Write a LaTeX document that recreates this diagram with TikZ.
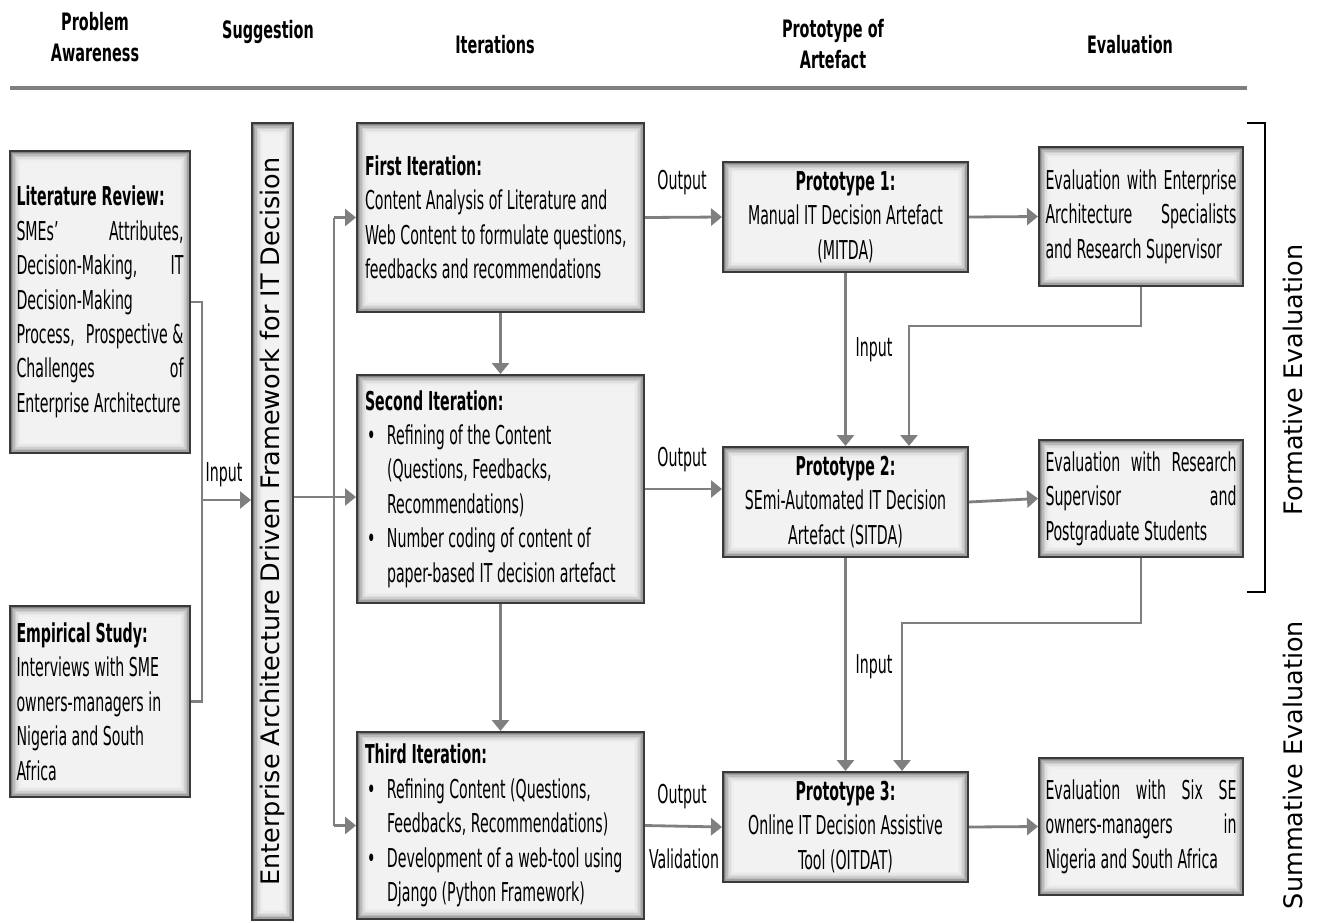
\documentclass[tikz,border=0pt]{standalone}
\usepackage{fontspec}
\usetikzlibrary{arrows.meta}
\newfontfamily\bodyfont[FakeStretch=0.545]{DejaVu Sans}
\newfontfamily\headfont[FakeStretch=0.6]{DejaVu Sans}
\newfontfamily\widefont{DejaVu Sans}
\definecolor{linkgray}{HTML}{7F7F7F}
\definecolor{boxline}{HTML}{3A3A3A}
% use the font's own interword spacing inside ragged text blocks
\newcommand\natsp{\spaceskip=0pt\xspaceskip=0pt\relax}
% a justified line: words spread across the full text width
\newcommand\jline[1]{\leavevmode\hbox to\hsize{#1}}
% bullet and hanging indent for the iteration lists
\newcommand\bul{\hspace*{2pt}\makebox[20pt][l]{\textbullet}}
\newcommand\hang{\hspace*{22pt}}
\hyphenpenalty=10000
\exhyphenpenalty=10000
\begin{document}
\begin{tikzpicture}[x=1pt,y=-1pt,
  card/.style={draw=boxline, line width=2pt, fill=black!5, inner ysep=0pt,
    path picture={
      \foreach \d/\g in {0/50,1.5/37,3/27,4.5/19,6/13,7.5/9,9/6.5}{
        \fill[black!\g] ([shift={(\d pt,-\d pt)}]path picture bounding box.north west)
          rectangle ([shift={(-\d pt,\d pt)}]path picture bounding box.south east);}
      \fill[black!5] ([shift={(10.5pt,-10.5pt)}]path picture bounding box.north west)
          rectangle ([shift={(-10.5pt,10.5pt)}]path picture bounding box.south east);}},
  body/.style={font=\bodyfont\fontsize{26}{34.4}\selectfont},
  head/.style={font=\headfont\bfseries\fontsize{24}{31}\selectfont, align=center},
  sidetext/.style={font=\widefont\fontsize{25.5}{30}\selectfont, rotate=90},
  label/.style={body, inner sep=0pt},
  conn/.style={draw=linkgray, line width=2.8pt},
  arrowc/.style={conn, -{Triangle[length=11pt,width=17pt]}},
  leftbox/.style={card, body, align=left, inner xsep=6.5pt, text width=167pt, minimum width=180pt},
  iterbox/.style={card, body, align=left, inner xsep=8pt, text width=271pt, minimum width=287pt},
  protobox/.style={card, body, align=center, minimum width=245pt, minimum height=110pt},
  evalbox/.style={card, body, align=left, inner xsep=6.5pt, text width=191pt, minimum width=204pt}
]
\useasboundingbox (0,0) rectangle (1317,922);

% column headings and rule
\node[head] (hpa) at (95,37.5) {Problem\\Awareness};
\node[head] (hsu) at (268,32) {Suggestion};
\node[head] (hit) at (495,45) {Iterations};
\node[head] (hpr) at (833,44) {Prototype of\\Artefact};
\node[head] (hev) at (1130,45) {Evaluation};
\coordinate (rl) at (10,88);
\coordinate (rr) at (1247,88);
\draw[draw=black!50, line width=4pt] (rl) -- (rr);

% problem awareness
\node[leftbox, minimum height=302pt] (lit) at (100,302) {\natsp
  {\bfseries Literature Review:}\\
  \jline{SMEs’\hfill Attributes,}\\
  \jline{Decision-Making,\hfill IT}\\
  Decision-Making\\
  \jline{Process,\hfill Prospective~\&}\\
  \jline{Challenges\hfill of}\\
  Enterprise Architecture};
\node[leftbox, minimum height=191pt] (emp) at (100,701.5) {\natsp
  {\bfseries Empirical Study:}\\
  Interviews with SME\\
  owners-managers in\\
  Nigeria and South\\
  Africa};

% suggestion bar
\node[card, minimum width=41pt, minimum height=797pt] (bar) at (272.5,521.5) {};
\node[sidetext] (bartxt) at (bar.center) {Enterprise Architecture Driven Framework for IT Decision};

% iterations
\node[iterbox, minimum height=189pt] (it1) at (500.5,217.5) {\natsp
  {\bfseries First Iteration:}\\
  Content Analysis of Literature and\\
  Web Content to formulate questions,\\
  feedbacks and recommendations};
\node[iterbox, minimum height=228pt] (it2) at (500.5,489) {\natsp
  {\bfseries Second Iteration:}\\
  \bul Refining of the Content\\
  \hang(Questions, Feedbacks,\\
  \hang Recommendations)\\
  \bul Number coding of content of\\
  \hang paper-based IT decision artefact};
\node[iterbox, minimum height=187pt] (it3) at (500.5,825.5) {\natsp
  {\bfseries Third Iteration:}\\
  \bul Refining Content (Questions,\\
  \hang Feedbacks, Recommendations)\\
  \bul Development of a web-tool using\\
  \hang Django (Python Framework)};

% prototypes
\node[protobox] (p1) at (845.5,217) {{\bfseries Prototype 1:}\\Manual IT Decision Artefact\\(MITDA)};
\node[protobox] (p2) at (845.5,502) {{\bfseries Prototype 2:}\\SEmi-Automated IT Decision\\Artefact (SITDA)};
\node[protobox] (p3) at (845.5,827) {{\bfseries Prototype 3:}\\Online IT Decision Assistive\\Tool (OITDAT)};

% evaluations
\node[evalbox, minimum height=139pt] (e1) at (1141,216.5) {\natsp
  \jline{Evaluation\hfill with\hfill Enterprise}\\
  \jline{Architecture\hfill Specialists}\\
  and Research Supervisor};
\node[evalbox, minimum height=117pt] (e2) at (1141,498.5) {\natsp
  \jline{Evaluation\hfill with\hfill Research}\\
  \jline{Supervisor\hfill and}\\
  Postgraduate Students};
\node[evalbox, minimum height=137pt] (e3) at (1141,826.5) {\natsp
  \jline{Evaluation\hfill with\hfill Six\hfill SE}\\
  \jline{owners-managers\hfill in}\\
  Nigeria and South Africa};

% formative / summative bracket and labels
\coordinate (bt0) at (1247,123);
\coordinate (bt1) at (1265,123);
\coordinate (bb1) at (1265,592);
\coordinate (bb0) at (1247,592);
\draw[black, line width=1.4pt] (bt0) -- (bt1) -- (bb1) -- (bb0);
\node[sidetext] (form) at (1293,380) {Formative Evaluation};
\node[sidetext] (summ) at (1293,765) {Summative Evaluation};

% inputs into the framework
\coordinate (jin) at (202,500);
\draw[conn] (lit.east) -| (jin);
\draw[conn] (emp.east) -| (jin);
\draw[arrowc] (jin) -- (jin -| bar.west);
\node[label] (lin) at (224,475) {Input};

% framework into the iterations
\coordinate (jit) at (334,497);
\draw[conn] (jit -| bar.east) -- (jit);
\draw[conn] (jit |- it1.west) -- (jit |- it3.west);
\draw[arrowc] (jit |- it1.west) -- (it1.west);
\draw[arrowc] (jit) -- (jit -| it2.west);
\draw[arrowc] (jit |- it3.west) -- (it3.west);
\draw[arrowc] (it1.south) -- (it2.north);
\draw[arrowc] (it2.south) -- (it3.north);

% iterations to prototypes
\draw[arrowc] (it1.east) -- (p1.west);
\draw[arrowc] (it2.east) -- (it2.east -| p2.west);
\draw[arrowc] (it3.east) -- (p3.west);
\node[label] (out1) at (682,183) {Output};
\node[label] (out2) at (682,460) {Output};
\node[label] (out3) at (682,797) {Output};
\node[label] (val) at (684,859) {Validation};

% prototypes to evaluations and feedback
\draw[arrowc] (p1.east) -- (e1.west);
\draw[arrowc] (p2.east) -- (e2.west);
\draw[arrowc] (p3.east) -- (e3.west);
\draw[arrowc] (p1.south) -- (p2.north);
\draw[arrowc] (p2.south) -- (p3.north);
\coordinate (f1) at (909,326);
\coordinate (f2) at (902,623);
\draw[arrowc] (e1.south) |- (f1) -- (f1 |- p2.north);
\draw[arrowc] (e2.south) |- (f2) -- (f2 |- p3.north);
\node[label] (in1) at (874,350) {Input};
\node[label] (in2) at (874,667) {Input};
\end{tikzpicture}
\end{document}
